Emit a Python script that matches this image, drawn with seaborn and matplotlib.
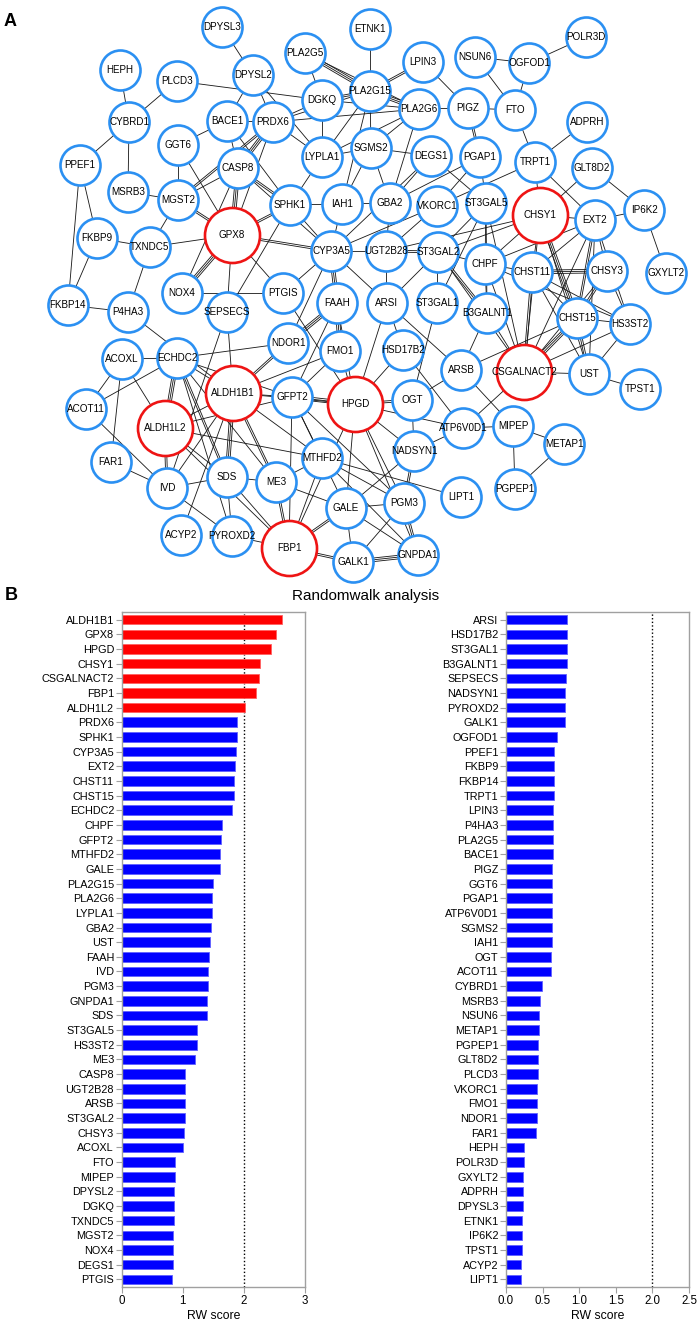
import numpy as np
import pandas as pd
import matplotlib
matplotlib.use("Agg")
import matplotlib.pyplot as plt
import seaborn as sns
from matplotlib.collections import LineCollection

sns.set_style("ticks")
plt.rcParams["font.family"] = ["Liberation Sans", "DejaVu Sans"]
plt.rcParams["text.color"] = "black"
plt.rcParams["axes.labelcolor"] = "black"

# ---- panel B data: random walk scores ----
left_genes = ["ALDH1B1", "GPX8", "HPGD", "CHSY1", "CSGALNACT2", "FBP1", "ALDH1L2",
              "PRDX6", "SPHK1", "CYP3A5", "EXT2", "CHST11", "CHST15", "ECHDC2",
              "CHPF", "GFPT2", "MTHFD2", "GALE", "PLA2G15", "PLA2G6", "LYPLA1",
              "GBA2", "UST", "FAAH", "IVD", "PGM3", "GNPDA1", "SDS", "ST3GAL5",
              "HS3ST2", "ME3", "CASP8", "UGT2B28", "ARSB", "ST3GAL2", "CHSY3",
              "ACOXL", "FTO", "MIPEP", "DPYSL2", "DGKQ", "TXNDC5", "MGST2",
              "NOX4", "DEGS1", "PTGIS"]
left_scores = [2.62, 2.52, 2.44, 2.27, 2.24, 2.20, 2.01,
               1.89, 1.88, 1.87, 1.86, 1.84, 1.84, 1.81,
               1.64, 1.62, 1.61, 1.61, 1.49, 1.48, 1.47,
               1.46, 1.44, 1.43, 1.41, 1.41, 1.40, 1.40, 1.24,
               1.23, 1.20, 1.04, 1.03, 1.03, 1.03, 1.02,
               1.01, 0.88, 0.87, 0.86, 0.86, 0.85, 0.84,
               0.84, 0.84, 0.83]

right_genes = ["ARSI", "HSD17B2", "ST3GAL1", "B3GALNT1", "SEPSECS", "NADSYN1",
               "PYROXD2", "GALK1", "OGFOD1", "PPEF1", "FKBP9", "FKBP14", "TRPT1",
               "LPIN3", "P4HA3", "PLA2G5", "BACE1", "PIGZ", "GGT6", "PGAP1",
               "ATP6V0D1", "SGMS2", "IAH1", "OGT", "ACOT11", "CYBRD1", "MSRB3",
               "NSUN6", "METAP1", "PGPEP1", "GLT8D2", "PLCD3", "VKORC1", "FMO1",
               "NDOR1", "FAR1", "HEPH", "POLR3D", "GXYLT2", "ADPRH", "DPYSL3",
               "ETNK1", "IP6K2", "TPST1", "ACYP2", "LIPT1"]
right_scores = [0.83, 0.83, 0.83, 0.83, 0.82, 0.81,
                0.81, 0.80, 0.69, 0.66, 0.65, 0.65, 0.65,
                0.64, 0.64, 0.64, 0.64, 0.63, 0.63, 0.63,
                0.63, 0.63, 0.63, 0.62, 0.61, 0.49, 0.46,
                0.45, 0.45, 0.44, 0.44, 0.44, 0.43, 0.42,
                0.42, 0.41, 0.25, 0.24, 0.23, 0.23, 0.23,
                0.22, 0.22, 0.22, 0.21, 0.21]

hub_genes = ["ALDH1B1", "GPX8", "HPGD", "CHSY1", "CSGALNACT2", "FBP1", "ALDH1L2"]
cutoff = 2.0
left_xticks = [0, 1, 2, 3]
right_xticks = [0.0, 0.5, 1.0, 1.5, 2.0, 2.5]

# ---- panel A data: network layout (pixel coordinates of the drawing) ----
node_names = ["DPYSL3", "HEPH", "PLCD3", "DPYSL2", "PLA2G5", "CYBRD1", "BACE1",
              "PRDX6", "DGKQ", "GGT6", "PPEF1", "LYPLA1", "CASP8", "MSRB3",
              "MGST2", "SPHK1", "IAH1", "GPX8", "FKBP9", "TXNDC5", "CYP3A5",
              "NOX4", "PTGIS", "FAAH", "FKBP14", "P4HA3", "SEPSECS",
              "ETNK1", "POLR3D", "NSUN6", "OGFOD1", "LPIN3", "PLA2G15", "PLA2G6",
              "PIGZ", "FTO", "ADPRH", "SGMS2", "DEGS1", "PGAP1", "TRPT1",
              "GLT8D2", "GBA2", "VKORC1", "ST3GAL5", "CHSY1", "EXT2", "IP6K2",
              "UGT2B28", "ST3GAL2", "CHPF", "CHST11", "CHSY3", "GXYLT2", "ARSI",
              "ST3GAL1", "B3GALNT1", "CHST15", "HS3ST2", "HSD17B2", "ARSB",
              "CSGALNACT2", "UST", "TPST1", "HPGD", "OGT", "ATP6V0D1", "MIPEP",
              "METAP1", "NADSYN1", "LIPT1", "PGPEP1", "PGM3", "GALE", "GNPDA1",
              "GALK1", "ACOXL", "ECHDC2", "NDOR1", "FMO1", "ACOT11", "ALDH1B1",
              "GFPT2", "ALDH1L2", "MTHFD2", "FAR1", "IVD", "SDS", "ME3", "ACYP2",
              "PYROXD2", "FBP1"]
node_x = [222, 120, 177, 253, 305, 129, 227,
          273, 322, 178, 80, 322, 238, 128,
          178, 290, 342, 232, 97, 150, 331,
          182, 283, 337, 68, 128, 227,
          370, 586, 475, 529, 423, 370, 419,
          468, 515, 587, 371, 431, 480, 535,
          592, 390, 437, 486, 540, 595, 644,
          386, 438, 485, 532, 607, 666, 387,
          437, 487, 577, 630, 403, 461,
          524, 589, 640, 355, 412, 463, 513,
          564, 414, 461, 515, 404, 346, 418,
          353, 122, 177, 288, 340, 86, 233,
          292, 165, 322, 111, 167, 227, 276, 181,
          232, 289]
node_y = [27, 70, 81, 75, 53, 122, 121,
          122, 100, 145, 165, 157, 168, 192,
          200, 205, 204, 235, 238, 247, 251,
          293, 293, 303, 305, 312, 312,
          29, 37, 57, 63, 62, 91, 109,
          108, 110, 122, 148, 156, 157, 162,
          168, 203, 206, 203, 215, 220, 210,
          251, 252, 264, 272, 271, 273, 303,
          303, 313, 318, 324, 350, 370,
          372, 374, 389, 404, 400, 428, 426,
          444, 451, 497, 489, 503, 508, 555,
          562, 359, 358, 343, 351, 409, 393,
          397, 428, 458, 462, 488, 477, 482, 535,
          536, 548]

# (source, target, number of parallel lines)
edges = [
    ("DPYSL3", "DPYSL2", 1), ("HEPH", "CYBRD1", 1), ("PLCD3", "CYBRD1", 1),
    ("PLCD3", "DGKQ", 1), ("DPYSL2", "BACE1", 1), ("DPYSL2", "PRDX6", 1),
    ("DPYSL2", "LYPLA1", 1), ("PLA2G5", "DGKQ", 1), ("PLA2G5", "PLA2G15", 3),
    ("PLA2G5", "PLA2G6", 1), ("CYBRD1", "PPEF1", 1), ("CYBRD1", "MSRB3", 1),
    ("BACE1", "GGT6", 1), ("BACE1", "PRDX6", 1), ("BACE1", "SPHK1", 1),
    ("BACE1", "CASP8", 1), ("PRDX6", "CASP8", 3), ("PRDX6", "MGST2", 2),
    ("PRDX6", "DGKQ", 1), ("PRDX6", "LYPLA1", 1), ("PRDX6", "GPX8", 1),
    ("PRDX6", "PLA2G15", 1), ("PRDX6", "PLA2G6", 1), ("DGKQ", "LYPLA1", 1),
    ("DGKQ", "PLA2G15", 2), ("DGKQ", "PLA2G6", 1), ("GGT6", "MGST2", 1),
    ("GGT6", "GPX8", 1), ("PPEF1", "FKBP9", 1), ("PPEF1", "FKBP14", 1),
    ("MSRB3", "MGST2", 1), ("MGST2", "GPX8", 2), ("MGST2", "TXNDC5", 1),
    ("MGST2", "CASP8", 1), ("CASP8", "GPX8", 3), ("CASP8", "SPHK1", 2),
    ("CASP8", "CYP3A5", 1), ("SPHK1", "GPX8", 2), ("SPHK1", "IAH1", 1),
    ("SPHK1", "LYPLA1", 1), ("SPHK1", "CYP3A5", 1), ("SPHK1", "SEPSECS", 1),
    ("LYPLA1", "PLA2G15", 1), ("LYPLA1", "PLA2G6", 1), ("LYPLA1", "SGMS2", 1),
    ("GPX8", "TXNDC5", 1), ("GPX8", "CYP3A5", 2), ("GPX8", "NOX4", 3),
    ("GPX8", "SEPSECS", 1), ("GPX8", "PTGIS", 1), ("FKBP9", "TXNDC5", 1),
    ("FKBP9", "FKBP14", 1), ("FKBP14", "P4HA3", 1), ("TXNDC5", "P4HA3", 1),
    ("NOX4", "PTGIS", 1), ("NOX4", "CASP8", 1), ("PTGIS", "CYP3A5", 1),
    ("PTGIS", "HPGD", 1), ("ETNK1", "PLA2G15", 1), ("LPIN3", "PLA2G15", 2),
    ("LPIN3", "PIGZ", 1), ("NSUN6", "OGFOD1", 1), ("NSUN6", "FTO", 1),
    ("OGFOD1", "POLR3D", 1), ("OGFOD1", "FTO", 1), ("PLA2G15", "PLA2G6", 3),
    ("PLA2G15", "SGMS2", 1), ("PLA2G15", "IAH1", 1), ("PLA2G6", "PIGZ", 1),
    ("PIGZ", "FTO", 1), ("PIGZ", "PGAP1", 2), ("FTO", "TRPT1", 1),
    ("ADPRH", "TRPT1", 1), ("PLA2G6", "GBA2", 1), ("PLA2G6", "SGMS2", 1),
    ("SGMS2", "DEGS1", 1), ("SGMS2", "GBA2", 1), ("SGMS2", "IAH1", 1),
    ("DEGS1", "GBA2", 1), ("DEGS1", "ST3GAL5", 1), ("DEGS1", "CYP3A5", 1),
    ("PGAP1", "ST3GAL5", 1), ("PGAP1", "VKORC1", 1), ("PGAP1", "GBA2", 1),
    ("TRPT1", "VKORC1", 1), ("TRPT1", "CHSY1", 1), ("TRPT1", "EXT2", 1),
    ("GLT8D2", "CHSY1", 1), ("GLT8D2", "IP6K2", 1), ("IP6K2", "EXT2", 1),
    ("IP6K2", "GXYLT2", 1), ("CHSY1", "EXT2", 1), ("CHSY1", "UGT2B28", 1),
    ("CHSY1", "CHPF", 1), ("CHSY1", "CHST11", 1), ("CHSY1", "CHST15", 3),
    ("CHSY1", "CSGALNACT2", 1), ("CHSY1", "UST", 1), ("CHSY1", "ST3GAL2", 1),
    ("EXT2", "CHST11", 1), ("EXT2", "CHSY3", 1), ("EXT2", "CHST15", 2),
    ("EXT2", "CSGALNACT2", 1), ("EXT2", "HS3ST2", 1), ("EXT2", "UST", 1),
    ("EXT2", "CHPF", 1), ("CHST11", "CHSY3", 3), ("CHST11", "CHPF", 1),
    ("CHST11", "CHST15", 1), ("CHST11", "CSGALNACT2", 2), ("CHST11", "HS3ST2", 1),
    ("CHST11", "UST", 1), ("CHPF", "CSGALNACT2", 1), ("CHPF", "B3GALNT1", 1),
    ("CHPF", "HS3ST2", 1), ("CHPF", "ST3GAL2", 1), ("CHSY3", "CHST15", 2),
    ("CHSY3", "HS3ST2", 1), ("CHSY3", "CSGALNACT2", 1), ("CHST15", "HS3ST2", 1),
    ("CHST15", "UST", 2), ("CHST15", "CSGALNACT2", 3), ("HS3ST2", "CSGALNACT2", 1),
    ("HS3ST2", "UST", 1), ("UST", "CSGALNACT2", 1), ("UST", "TPST1", 1),
    ("ST3GAL5", "ST3GAL2", 1), ("ST3GAL5", "ST3GAL1", 1), ("ST3GAL5", "CHPF", 1),
    ("ST3GAL5", "B3GALNT1", 1), ("ST3GAL5", "CSGALNACT2", 1),
    ("VKORC1", "CYP3A5", 1), ("VKORC1", "UGT2B28", 1), ("GBA2", "UGT2B28", 1),
    ("GBA2", "IAH1", 1), ("UGT2B28", "ST3GAL2", 2), ("UGT2B28", "ARSI", 1),
    ("UGT2B28", "CYP3A5", 1), ("ST3GAL2", "ST3GAL1", 1), ("ST3GAL2", "B3GALNT1", 2),
    ("ST3GAL2", "CSGALNACT2", 1), ("ST3GAL2", "ARSI", 1), ("IAH1", "CYP3A5", 1),
    ("CYP3A5", "FAAH", 3), ("CYP3A5", "ARSI", 1), ("CYP3A5", "NDOR1", 1),
    ("ARSI", "HSD17B2", 1), ("ARSI", "ARSB", 1), ("ARSI", "HPGD", 1),
    ("ST3GAL1", "OGT", 1), ("B3GALNT1", "ARSB", 1), ("B3GALNT1", "CSGALNACT2", 1),
    ("HSD17B2", "HPGD", 1), ("HSD17B2", "ATP6V0D1", 1), ("ARSB", "OGT", 1),
    ("ARSB", "MIPEP", 1), ("ARSB", "CHST15", 1), ("CSGALNACT2", "ATP6V0D1", 1),
    ("HPGD", "OGT", 2), ("HPGD", "ATP6V0D1", 1), ("HPGD", "NADSYN1", 1),
    ("HPGD", "PGM3", 1), ("HPGD", "GNPDA1", 1), ("HPGD", "GALE", 1),
    ("OGT", "NADSYN1", 1), ("NADSYN1", "ATP6V0D1", 1), ("ATP6V0D1", "MIPEP", 1),
    ("MIPEP", "METAP1", 1), ("MIPEP", "PGPEP1", 1), ("PGPEP1", "METAP1", 1),
    ("NADSYN1", "PGM3", 2), ("NADSYN1", "GALE", 1), ("LIPT1", "MTHFD2", 1),
    ("PGM3", "GALE", 1), ("PGM3", "GNPDA1", 2), ("PGM3", "GALK1", 1),
    ("GALE", "GNPDA1", 1), ("GALK1", "GNPDA1", 3), ("GALE", "GALK1", 1),
    ("MTHFD2", "GNPDA1", 1), ("MTHFD2", "PGM3", 1), ("P4HA3", "ALDH1B1", 1),
    ("SEPSECS", "ALDH1B1", 1), ("SEPSECS", "IVD", 1), ("ACOXL", "ECHDC2", 1),
    ("ACOXL", "ACOT11", 1), ("ACOXL", "ALDH1L2", 1), ("ACOXL", "FAR1", 1),
    ("ECHDC2", "NDOR1", 1), ("ECHDC2", "ACOT11", 1), ("ECHDC2", "ALDH1B1", 1),
    ("ECHDC2", "ALDH1L2", 3), ("ECHDC2", "GFPT2", 1), ("ECHDC2", "SDS", 2),
    ("ECHDC2", "PYROXD2", 1), ("ECHDC2", "ME3", 1), ("NDOR1", "ALDH1B1", 2),
    ("NDOR1", "FAAH", 3), ("ALDH1B1", "GFPT2", 1), ("ALDH1B1", "ALDH1L2", 1),
    ("ALDH1B1", "SDS", 3), ("ALDH1B1", "ME3", 2), ("ALDH1B1", "MTHFD2", 1),
    ("ALDH1B1", "IVD", 1), ("ALDH1B1", "ACYP2", 1), ("ALDH1B1", "HPGD", 1),
    ("ALDH1B1", "FMO1", 1), ("ALDH1L2", "IVD", 2), ("ALDH1L2", "MTHFD2", 1),
    ("ALDH1L2", "GFPT2", 1), ("ALDH1L2", "FBP1", 1), ("ALDH1L2", "SDS", 1),
    ("ACOT11", "IVD", 1), ("FAR1", "IVD", 1), ("IVD", "SDS", 1),
    ("IVD", "PYROXD2", 1), ("SDS", "ME3", 1), ("SDS", "PYROXD2", 1),
    ("SDS", "FBP1", 1), ("ME3", "FBP1", 2), ("ME3", "MTHFD2", 1),
    ("ME3", "GALE", 1), ("GFPT2", "MTHFD2", 1), ("GFPT2", "FBP1", 1),
    ("GFPT2", "HPGD", 3), ("GFPT2", "GALE", 1), ("GFPT2", "PGM3", 1),
    ("MTHFD2", "FBP1", 1), ("FBP1", "PYROXD2", 1), ("FBP1", "GALE", 2),
    ("FBP1", "GALK1", 2), ("FBP1", "HPGD", 1), ("FMO1", "GFPT2", 1),
    ("FMO1", "HPGD", 1), ("FAAH", "FMO1", 3), ("FAAH", "HPGD", 1),
    ("FAAH", "GFPT2", 1),
]

node_blue = "#2b90f2"
node_red = "#ee1414"
bar_blue = "#0000ff"
bar_red = "#ff0000"
spine_grey = "#a0a0a0"

W, H = 699, 1323
fig = plt.figure(figsize=(W / 100, H / 100), dpi=100)

# ---- A: network ----
nodes = pd.DataFrame({"gene": node_names, "x": node_x, "y": node_y})
nodes["hub"] = nodes["gene"].isin(hub_genes)
pos = {g: (x, y) for g, x, y in zip(node_names, node_x, node_y)}

axA = fig.add_axes([0, 1 - 595 / H, 1, 595 / H])
segs = []
for a, b, n in edges:
    p = np.array(pos[a], float)
    q = np.array(pos[b], float)
    d = q - p
    perp = np.array([-d[1], d[0]]) / np.hypot(*d)
    for k in range(n):
        off = (k - (n - 1) / 2) * 1.8 * perp
        segs.append([p + off, q + off])
axA.add_collection(LineCollection(segs, colors="#1a1a1a", linewidths=0.62, zorder=1))

sns.scatterplot(data=nodes[~nodes["hub"]], x="x", y="y", s=830, color="white",
                edgecolor=node_blue, linewidth=1.9, ax=axA, zorder=3, legend=False)
sns.scatterplot(data=nodes[nodes["hub"]], x="x", y="y", s=1570, color="white",
                edgecolor=node_red, linewidth=1.9, ax=axA, zorder=3, legend=False)
for g, x, y in zip(node_names, node_x, node_y):
    axA.text(x, y, g, fontsize=7.1, ha="center", va="center", zorder=4)
axA.set_xlim(0, W)
axA.set_ylim(595, 0)
axA.axis("off")

fig.text(10 / W, 1 - 22 / H, "A", fontsize=13, fontweight="bold", ha="center", va="center")
fig.text(11 / W, 1 - 596 / H, "B", fontsize=13, fontweight="bold", ha="center", va="center")
fig.text(366 / W, 1 - 596 / H, "Randomwalk analysis", fontsize=11, ha="center", va="center")

# ---- B: bar charts ----
bottom = (H - 1286.7) / H
height = (1286.7 - 612.3) / H


def rw_bars(ax, genes, scores, xmax, xticks, xticklabels):
    df = pd.DataFrame({"gene": genes, "score": scores})
    colors = [bar_red if g in hub_genes else bar_blue for g in genes]
    sns.barplot(data=df, x="score", y="gene", hue="gene", palette=colors,
                legend=False, width=0.65, saturation=1, ax=ax)
    for patch, c in zip(ax.patches, colors):
        patch.set_edgecolor("#ff6060" if c == bar_red else "#6060ff")
        patch.set_linewidth(0.6)
    ax.axvline(cutoff, color="black", ls=(0, (1, 1.6)), lw=1.0, zorder=0)
    ax.set_xlim(0, xmax)
    ax.set_xticks(xticks)
    ax.set_xticklabels(xticklabels)
    ax.set_xlabel("RW score", fontsize=8.8, labelpad=2)
    ax.set_ylabel("")
    for sp in ax.spines.values():
        sp.set_visible(True)
        sp.set_color(spine_grey)
        sp.set_linewidth(1.0)
    ax.tick_params(axis="y", length=4, width=0.8, color=spine_grey, labelcolor="black",
                   labelsize=7.8, pad=1.5)
    ax.tick_params(axis="x", length=4, width=0.8, color=spine_grey, labelcolor="black",
                   labelsize=8.3, pad=2)


ax1 = fig.add_axes([121.7 / W, bottom, (305 - 121.7) / W, height])
rw_bars(ax1, left_genes, left_scores, 3, left_xticks, [str(t) for t in left_xticks])

ax2 = fig.add_axes([506 / W, bottom, (689 - 506) / W, height])
rw_bars(ax2, right_genes, right_scores, 2.5, right_xticks, [f"{t:.1f}" for t in right_xticks])

fig.savefig("out.png", dpi=100)
